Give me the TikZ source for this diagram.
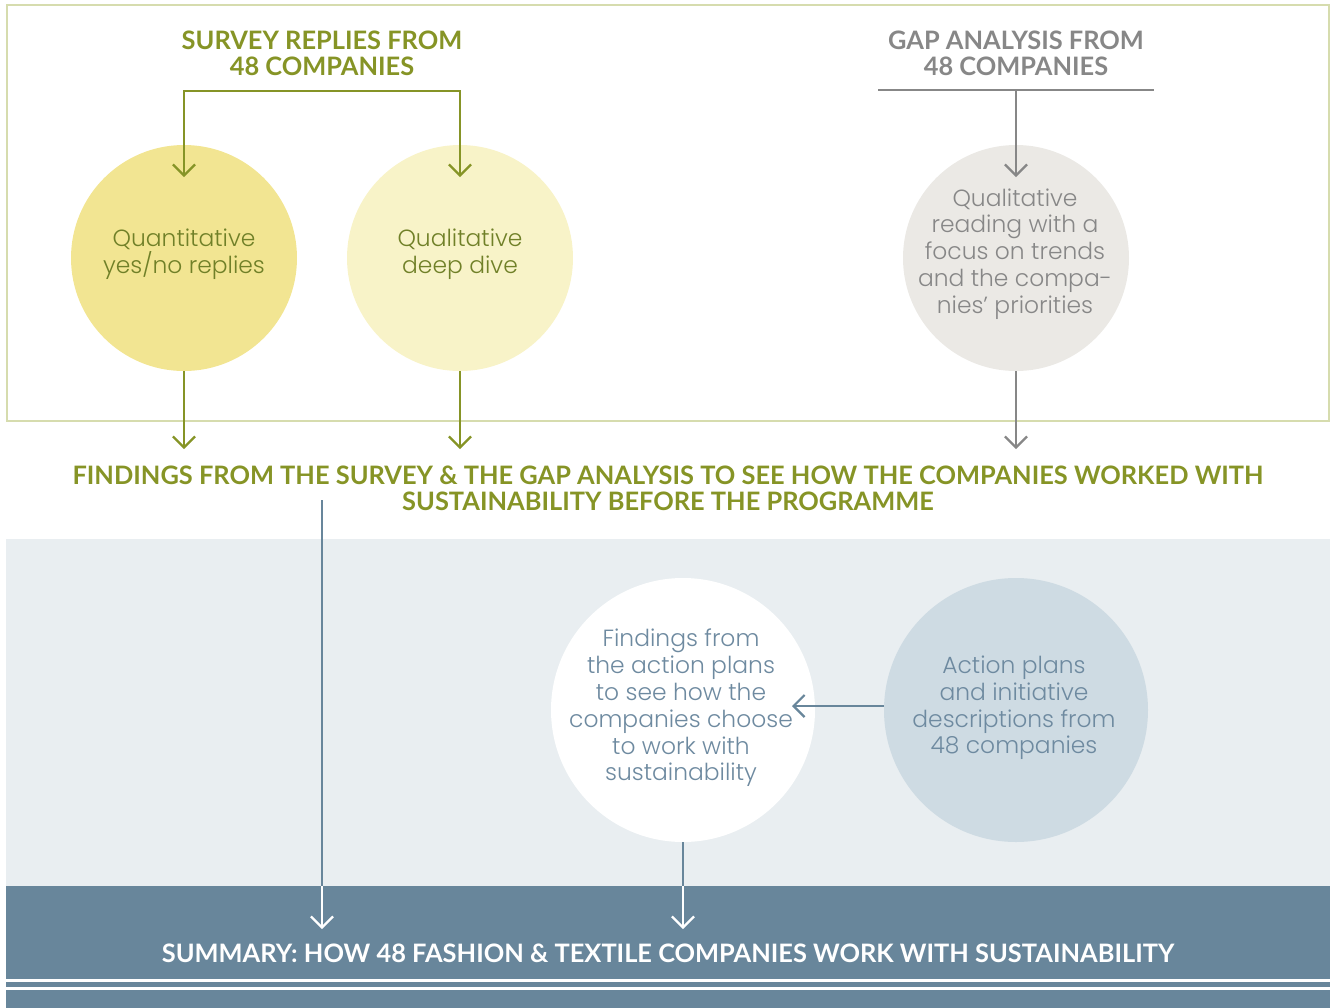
\documentclass[tikz,border=0pt]{standalone}
\usepackage{fontspec}
\setmainfont{Lato}
\newfontfamily\circfont{Poppins Light}
\usetikzlibrary{arrows.meta}

\definecolor{leaf}{RGB}{134,148,38}
\definecolor{leafdark}{RGB}{112,128,40}
\definecolor{boxedge}{RGB}{214,220,174}
\definecolor{sun}{RGB}{242,229,146}
\definecolor{paleSun}{RGB}{248,243,200}
\definecolor{stone}{RGB}{235,233,229}
\definecolor{stoneText}{RGB}{135,135,135}
\definecolor{mist}{RGB}{233,238,241}
\definecolor{slate}{RGB}{104,134,155}
\definecolor{slateText}{RGB}{110,138,160}
\definecolor{frost}{RGB}{206,219,227}

\tikzset{
  tip/.style={-{Straight Barb[length=5.5pt,width=11pt]}},
  link/.style={line width=1.1pt},
  disc/.style={circle, draw=none, inner sep=0pt},
  small disc/.style={disc, minimum size=113pt},
  big disc/.style={disc, minimum size=132pt},
  heading/.style={font=\bfseries\fontsize{12.7}{13}\selectfont, align=center, inner sep=0pt},
  disctext/.style={font=\circfont\fontsize{11.7}{13.4}\selectfont, align=center, inner sep=0pt},
}

\begin{document}
\begin{tikzpicture}[x=0.5pt,y=-0.5pt]
\useasboundingbox (0,0) rectangle (1330,1008);

% panels
\draw[boxedge, line width=1.2pt] (7,5) rectangle (1329,421);
\fill[mist] (6,539) rectangle (1330,886);
\fill[slate] (6,886) rectangle (1330,1008);
\fill[white] (6,978.5) rectangle (1330,981.5);
\fill[white] (6,987) rectangle (1330,990);

% top headings
\node[heading, text=leaf] (survey) at (322,53) {SURVEY REPLIES FROM\\48 COMPANIES};
\node[heading, text=stoneText] (gap) at (1016,53) {GAP ANALYSIS FROM\\48 COMPANIES};

% circles
\node[small disc, fill=sun] (quant) at (184,258) {};
\node[small disc, fill=paleSun] (qual) at (460,258) {};
\node[small disc, fill=stone] (read) at (1016,258) {};
\node[big disc, fill=white] (plans) at (683,710) {};
\node[big disc, fill=frost] (action) at (1016,710) {};

% circle texts
\node[disctext, text=leafdark] (quantT) at (184,254) {Quantitative\\yes/no replies};
\node[disctext, text=leafdark] (qualT) at (460,254) {Qualitative\\deep dive};
\node[disctext, text=stoneText] (readT) at (1015,254) {Qualitative\\reading with a\\focus on trends\\and the compa-\\nies’ priorities};
\node[disctext, text=slateText] (plansT) at (681,708) {Findings from\\the action plans\\to see how the\\companies choose\\to work with\\sustainability};
\node[disctext, text=slateText] (actionT) at (1014,708) {Action plans\\and initiative\\descriptions from\\48 companies};

% middle and bottom headings
\node[heading, text=leaf] (findings) at (668,488) {FINDINGS FROM THE SURVEY \& THE GAP ANALYSIS TO SEE HOW THE COMPANIES WORKED WITH\\SUSTAINABILITY BEFORE THE PROGRAMME};
\node[heading, text=white] (summary) at (668,953) {SUMMARY: HOW 48 FASHION \& TEXTILE COMPANIES WORK WITH SUSTAINABILITY};

% connector end points
\coordinate (quantIn) at (184,177);
\coordinate (qualIn) at (460,177);
\coordinate (readIn) at (1016,177);
\coordinate (gapL) at (878,90);
\coordinate (gapR) at (1154,90);
\coordinate (gapMid) at (1016,90);
\coordinate (quantOut) at (184,449);
\coordinate (qualOut) at (460,449);
\coordinate (readOut) at (1016,449);
\coordinate (findStart) at (322,500);
\coordinate (findEnd) at (322,929);
\coordinate (plansEnd) at (683,929);
\coordinate (plansIn) at (792,706);
\coordinate (actionOut) at (884,706);
\coordinate (bandTopA) at (322,886);
\coordinate (bandTopB) at (683,886);

% survey bracket
\draw[link, leaf, {Straight Barb[length=5.5pt,width=11pt]}-{Straight Barb[length=5.5pt,width=11pt]}]
  (quantIn) -- (184,91) -- (460,91) -- (qualIn);
% gap analysis bar
\draw[link, stoneText] (gapL) -- (gapR);
\draw[link, stoneText, tip] (gapMid) -- (readIn);

% down to findings
\draw[link, leaf, tip] (quant.south) -- (quantOut);
\draw[link, leaf, tip] (qual.south) -- (qualOut);
\draw[link, stoneText, tip] (read.south) -- (readOut);

% lower flow
\draw[link, slate] (findStart) -- (bandTopA);
\draw[link, white, tip] (bandTopA) -- (findEnd);
\draw[link, slate, tip] (actionOut) -- (plansIn);
\draw[link, slate] (plans.south) -- (bandTopB);
\draw[link, white, tip] (bandTopB) -- (plansEnd);

\end{tikzpicture}
\end{document}
